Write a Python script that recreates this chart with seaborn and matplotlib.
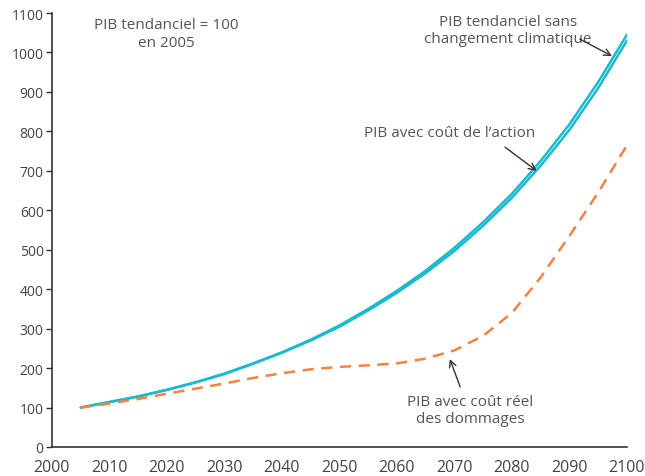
import matplotlib
matplotlib.use("Agg")
import matplotlib.pyplot as plt
import seaborn as sns
import pandas as pd

years = [2005, 2010, 2015, 2020, 2025, 2030, 2035, 2040, 2045, 2050,
         2055, 2060, 2065, 2070, 2075, 2080, 2085, 2090, 2095, 2100]
pib_sans_cc = [100, 114, 128, 145, 164, 186, 212, 240, 272, 308,
               350, 396, 447, 505, 570, 642, 725, 818, 925, 1045]
pib_cout_action = [100, 114, 128, 145, 164, 185, 211, 239, 270, 305,
                   346, 391, 441, 497, 561, 632, 713, 804, 910, 1030]
pib_dommages = [100, 110, 122, 135, 148, 161, 175, 187, 197, 203,
                207, 212, 224, 245, 282, 340, 430, 535, 645, 765]

df = pd.DataFrame({
    "annee": years * 3,
    "pib": pib_sans_cc + pib_cout_action + pib_dommages,
    "serie": (["sans"] * len(years) + ["action"] * len(years)
              + ["dommages"] * len(years)),
})

sns.set_theme(style="white")
plt.rcParams["font.family"] = ["Open Sans", "DejaVu Sans"]

fig = plt.figure(figsize=(6.45, 4.77), dpi=100)
ax = fig.add_axes([0.0806, 0.0608, 0.8914, 0.9098])

cyan = "#1bb9cf"
orange = "#f5823f"
sns.lineplot(data=df, x="annee", y="pib", hue="serie", style="serie",
             palette={"sans": cyan, "action": cyan, "dommages": orange},
             dashes={"sans": "", "action": "", "dommages": (4.5, 3)},
             linewidth=1.8, ax=ax, legend=False)

ax.set_xlim(2000, 2100)
ax.set_ylim(0, 1100)
ax.set_xticks(range(2000, 2101, 10))
ax.set_yticks(range(0, 1101, 100))
ax.set_xlabel("")
ax.set_ylabel("")
for s in ["top", "right"]:
    ax.spines[s].set_visible(False)
for s in ["left", "bottom"]:
    ax.spines[s].set_color("#333333")
    ax.spines[s].set_linewidth(1.2)
ax.tick_params(axis="y", which="both", left=True, length=4, width=1,
               color="#333333", labelsize=10, labelcolor="#444444", pad=2)
ax.tick_params(axis="x", bottom=False, labelsize=11.5, labelcolor="#444444", pad=3)

tc = "#555555"
fs = 11
ax.text(2019.8, 1049, "PIB tendanciel = 100\nen 2005", ha="center", va="center",
        fontsize=fs, color=tc, linespacing=1.25)
ax.text(2079.3, 1057, "PIB tendanciel sans\nchangement climatique", ha="center",
        va="center", fontsize=fs, color=tc, linespacing=1.25)
ax.text(2069.2, 796, "PIB avec coût de l’action", ha="center", va="center",
        fontsize=fs, color=tc)
ax.text(2072.7, 94, "PIB avec coût réel\ndes dommages", ha="center", va="center",
        fontsize=fs, color=tc, linespacing=1.25)

arrow = dict(arrowstyle="->", color="#333333", lw=1.0, shrinkA=0, shrinkB=0)
ax.annotate("", xy=(2097.4, 991), xytext=(2091.8, 1034), arrowprops=arrow)
ax.annotate("", xy=(2084.3, 700), xytext=(2078.8, 760), arrowprops=arrow)
ax.annotate("", xy=(2069.2, 223), xytext=(2071.0, 152), arrowprops=arrow)

fig.savefig("out.png", dpi=100)
